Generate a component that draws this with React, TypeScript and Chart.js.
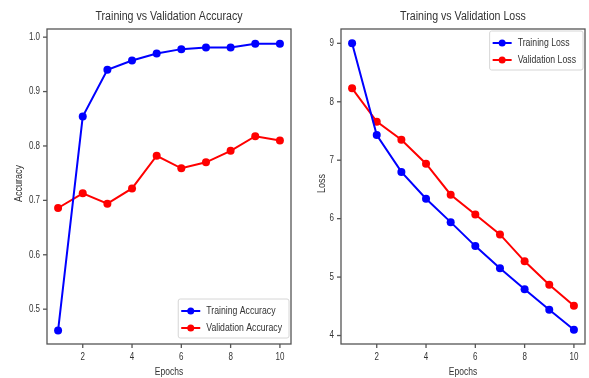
import { useEffect, useRef } from "react";
import { Chart, registerables } from "chart.js";

Chart.register(...registerables);

const EPOCHS = [1, 2, 3, 4, 5, 6, 7, 8, 9, 10];
const TRAIN_ACC = [0.461, 0.854, 0.94, 0.957, 0.97, 0.978, 0.981, 0.981, 0.988, 0.988];
const VAL_ACC = [0.686, 0.713, 0.694, 0.722, 0.782, 0.759, 0.77, 0.791, 0.818, 0.81];
const TRAIN_LOSS = [9.0, 7.43, 6.8, 6.34, 5.94, 5.53, 5.15, 4.79, 4.44, 4.1];
const VAL_LOSS = [8.23, 7.66, 7.35, 6.94, 6.41, 6.07, 5.73, 5.27, 4.87, 4.51];
const EPOCH_TICKS = [2, 4, 6, 8, 10];
const ACC_TICKS = [0.5, 0.6, 0.7, 0.8, 0.9, 1.0];
const LOSS_TICKS = [4, 5, 6, 7, 8, 9];

const BLUE = "#0000ff";
const RED = "#ff0000";
const TEXT = "#333333";
const FRAME = "#555555";
const FONT = "'Liberation Sans', Arial, sans-serif";

function drawText(ctx: CanvasRenderingContext2D, text: string, x: number, y: number, size: number, align: CanvasTextAlign, sx: number, rotate = false) {
  ctx.save();
  ctx.translate(x, y);
  if (rotate) ctx.rotate(-Math.PI / 2);
  ctx.scale(sx, 1);
  ctx.font = `${size}px ${FONT}`;
  ctx.fillStyle = TEXT;
  ctx.textAlign = align;
  ctx.textBaseline = "middle";
  ctx.fillText(text, 0, 0);
  ctx.restore();
}

function textWidth(ctx: CanvasRenderingContext2D, text: string, size: number, sx: number) {
  ctx.save();
  ctx.font = `${size}px ${FONT}`;
  const w = ctx.measureText(text).width * sx;
  ctx.restore();
  return w;
}

const decorPlugin = {
  id: "decor",
  afterDraw(chart: any, _args: any, opts: any) {
    const ctx: CanvasRenderingContext2D = chart.ctx;
    const a = chart.chartArea;
    const xs = chart.scales.x;
    const ys = chart.scales.y;
    ctx.save();
    // frame
    ctx.strokeStyle = FRAME;
    ctx.lineWidth = 1.3;
    ctx.strokeRect(a.left, a.top, a.right - a.left, a.bottom - a.top);
    // x ticks
    for (const v of opts.xTicks) {
      const px = xs.getPixelForValue(v);
      ctx.beginPath();
      ctx.moveTo(px, a.bottom);
      ctx.lineTo(px, a.bottom + 4);
      ctx.stroke();
      drawText(ctx, String(v), px, a.bottom + 13, 10, "center", 0.8);
    }
    // y ticks
    for (const v of opts.yTicks) {
      const py = ys.getPixelForValue(v);
      ctx.beginPath();
      ctx.moveTo(a.left - 4, py);
      ctx.lineTo(a.left, py);
      ctx.stroke();
      drawText(ctx, v.toFixed(opts.yDecimals), a.left - 7, py, 10, "right", 0.8);
    }
    const cx = (a.left + a.right) / 2;
    const cy = (a.top + a.bottom) / 2;
    drawText(ctx, opts.title, cx, 17, 12.5, "center", 0.85);
    drawText(ctx, "Epochs", cx, 372, 10, "center", 0.85);
    drawText(ctx, opts.yLabel, a.left - opts.yLabelOffset, cy - 3, 10, "center", 0.9, true);

    // legend
    const items = chart.data.datasets.map((d: any) => ({ label: d.label, color: d.borderColor }));
    const size = 10;
    const sx = 0.87;
    const maxW = Math.max(...items.map((it: any) => textWidth(ctx, it.label, size, sx)));
    const padL = 3, lineLen = 19, gap = 6, padR = 7;
    const boxW = padL + lineLen + gap + maxW + padR;
    const boxH = 39;
    const right = a.right - 2;
    const left = right - boxW;
    const top = opts.legendPos === "lower" ? a.bottom - 6 - boxH : a.top + 2;
    ctx.fillStyle = "rgba(255,255,255,0.85)";
    ctx.strokeStyle = "#d6d6d6";
    ctx.lineWidth = 1;
    ctx.beginPath();
    ctx.roundRect(left, top, boxW, boxH, 2);
    ctx.fill();
    ctx.stroke();
    items.forEach((it: any, i: number) => {
      const y = top + 12 + i * 17;
      ctx.strokeStyle = it.color;
      ctx.lineWidth = 2;
      ctx.beginPath();
      ctx.moveTo(left + padL, y);
      ctx.lineTo(left + padL + lineLen, y);
      ctx.stroke();
      ctx.fillStyle = it.color;
      ctx.beginPath();
      ctx.arc(left + padL + lineLen / 2, y, 3.5, 0, Math.PI * 2);
      ctx.fill();
      drawText(ctx, it.label, left + padL + lineLen + gap, y, size, "left", sx);
    });
    ctx.restore();
  },
};

function makeConfig(p: any): any {
  const ds = (label: string, vals: number[], color: string) => ({
    label,
    data: EPOCHS.map((e, i) => ({ x: e, y: vals[i] })),
    borderColor: color,
    backgroundColor: color,
    borderWidth: 2,
    pointRadius: 4,
    pointHoverRadius: 4,
    pointBorderWidth: 0,
    tension: 0,
  });
  return {
    type: "line",
    data: {
      datasets: [ds(p.trainLabel, p.train, BLUE), ds(p.valLabel, p.val, RED)],
    },
    options: {
      animation: false,
      responsive: false,
      maintainAspectRatio: false,
      layout: { padding: p.padding },
      scales: {
        x: { type: "linear", display: false, min: 0.55, max: 10.45 },
        y: { type: "linear", display: false, min: p.yMin, max: p.yMax },
      },
      plugins: {
        legend: { display: false },
        tooltip: { enabled: false },
        title: { display: false },
        decor: {
          title: p.title,
          yLabel: p.yLabel,
          yLabelOffset: p.yLabelOffset,
          xTicks: EPOCH_TICKS,
          yTicks: p.yTicks,
          yDecimals: p.yDecimals,
          legendPos: p.legendPos,
        },
      },
    },
    plugins: [decorPlugin],
  };
}

function ChartBox({ cfg, left, width }: { cfg: any; left: number; width: number }) {
  const ref = useRef<HTMLCanvasElement>(null);
  useEffect(() => {
    if (!ref.current) return;
    const chart = new Chart(ref.current, cfg);
    return () => chart.destroy();
  }, []);
  return (
    <canvas
      ref={ref}
      width={width}
      height={378}
      style={{ position: "absolute", left, top: 0, width, height: 378 }}
    />
  );
}

export default function App() {
  const accCfg = makeConfig({
    title: "Training vs Validation Accuracy",
    yLabel: "Accuracy",
    yLabelOffset: 28,
    trainLabel: "Training Accuracy",
    valLabel: "Validation Accuracy",
    train: TRAIN_ACC,
    val: VAL_ACC,
    yMin: 0.436,
    yMax: 1.015,
    yTicks: ACC_TICKS,
    yDecimals: 1,
    legendPos: "lower",
    padding: { left: 47, right: 3, top: 29, bottom: 34 },
  });
  const lossCfg = makeConfig({
    title: "Training vs Validation Loss",
    yLabel: "Loss",
    yLabelOffset: 19,
    trainLabel: "Training Loss",
    valLabel: "Validation Loss",
    train: TRAIN_LOSS,
    val: VAL_LOSS,
    yMin: 3.855,
    yMax: 9.245,
    yTicks: LOSS_TICKS,
    yDecimals: 0,
    legendPos: "upper",
    padding: { left: 46, right: 2, top: 29, bottom: 34 },
  });
  return (
    <div style={{ position: "fixed", left: 0, top: 0, width: 589, height: 378, background: "#fff" }}>
      <ChartBox cfg={accCfg} left={0} width={295} />
      <ChartBox cfg={lossCfg} left={295} width={294} />
    </div>
  );
}
